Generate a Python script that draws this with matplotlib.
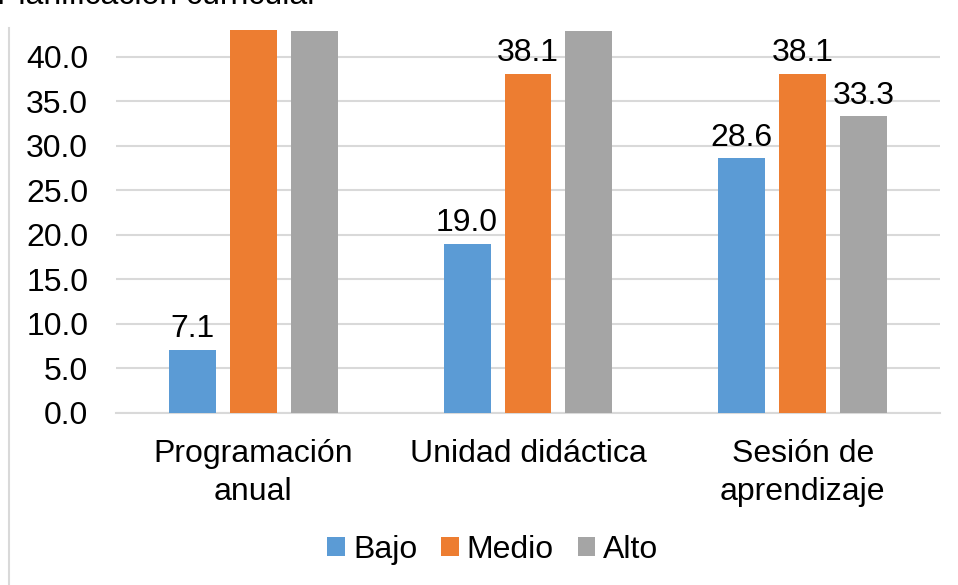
import numpy as np
import matplotlib
matplotlib.use("Agg")
import matplotlib.pyplot as plt
from matplotlib.lines import Line2D

plt.rcParams['font.family'] = ['Liberation Sans', 'DejaVu Sans']

categories = ['Programación\nanual', 'Unidad didáctica', 'Sesión de\naprendizaje']
series = ['Bajo', 'Medio', 'Alto']
bajo = [7.1, 19.0, 28.6]
medio = [50.0, 38.1, 38.1]
alto = [42.9, 42.9, 33.3]
colors = ['#5B9BD5', '#ED7D31', '#A5A5A5']
yticks = [0, 5, 10, 15, 20, 25, 30, 35, 40]

fs = 23
ytop = 43.0

fig = plt.figure(figsize=(9.58, 5.85), dpi=100)
ax = fig.add_axes([116 / 958, 1 - 413 / 585, 824 / 958, 383 / 585])

x = np.arange(len(categories))
width = 0.171
step = 0.222
for i, (name, vals, c) in enumerate(zip(series, [bajo, medio, alto], colors)):
    xs = x + (i - 1) * step
    ax.bar(xs, vals, width, color=c, label=name, zorder=3)
    for xi, v in zip(xs, vals):
        # labels of bars that run past the top of the plot are not shown
        if v > ytop - 4:
            continue
        ax.annotate('%.1f' % v, (xi, v), xytext=(0, 4), textcoords='offset points',
                    ha='center', va='bottom', fontsize=fs, color='#000000')

ax.set_xlim(-0.5, 2.5)
ax.set_ylim(0, ytop)
ax.set_yticks(yticks)
ax.set_yticklabels(['%.1f' % t for t in yticks], fontsize=fs)
ax.set_xticks(x)
ax.set_xticklabels(categories, fontsize=fs, linespacing=1.35)
ax.tick_params(axis='y', length=0, pad=20)
ax.tick_params(axis='x', length=0, pad=19)
ax.grid(axis='y', color='#d9d9d9', linewidth=1.5, zorder=0)
for s in ['top', 'right', 'left']:
    ax.spines[s].set_visible(False)
ax.spines['bottom'].set_color('#d9d9d9')
ax.spines['bottom'].set_linewidth(1.5)

leg = fig.legend(loc='center', bbox_to_anchor=(493 / 958, 1 - 550 / 585), ncol=3,
                 frameon=False, fontsize=fs, handlelength=0.55, handleheight=0.55,
                 handletextpad=0.25, columnspacing=0.75)

fig.text(-3 / 958, 1 - 4 / 585, 'Planificación curricular', ha='left', va='baseline',
         fontsize=fs)
fig.add_artist(Line2D([8.5 / 958, 8.5 / 958], [0, 1 - 28 / 585], transform=fig.transFigure,
                      color='#d9d9d9', linewidth=1.5))

fig.savefig('out.png', dpi=100)
